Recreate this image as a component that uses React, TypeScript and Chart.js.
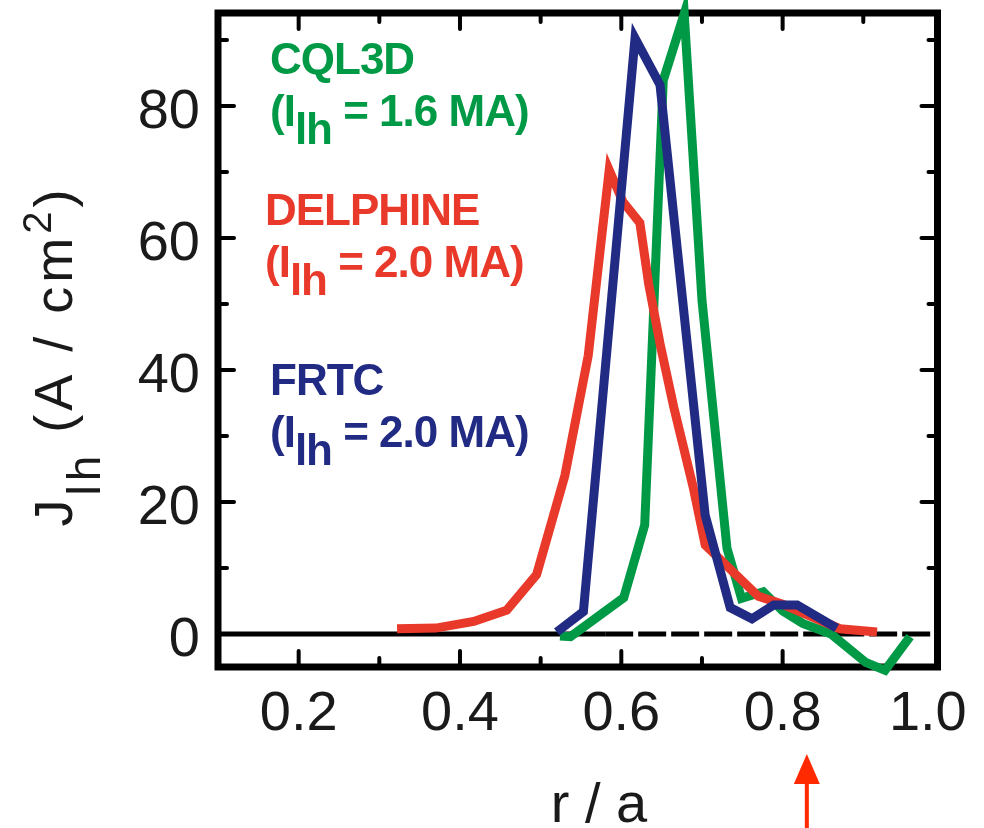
import React, { useEffect, useRef } from "react";
import { Chart, registerables } from "chart.js";

Chart.register(...registerables);

// ---- data (r/a, J_lh in A/cm^2) ----
const cql3dR = [0.524, 0.537, 0.603, 0.629, 0.652, 0.678, 0.700, 0.731, 0.749, 0.776, 0.800, 0.825, 0.860, 0.903, 0.927, 0.958];
const cql3dJ = [-0.3, -0.4, 5.5, 16.5, 83.9, 94.0, 50.6, 13.0, 5.4, 6.4, 3.5, 1.6, 0.0, -4.3, -5.5, -0.4];

const delphineR = [0.322, 0.370, 0.417, 0.458, 0.495, 0.530, 0.559, 0.585, 0.602, 0.623, 0.634, 0.648, 0.665, 0.689, 0.704, 0.770, 0.800, 0.871, 0.917];
const delphineJ = [0.8, 0.9, 1.9, 3.6, 9.0, 24.0, 42.2, 70.3, 65.5, 62.3, 53.0, 44.0, 34.4, 22.3, 13.5, 5.7, 4.5, 0.8, 0.3];

const frtcR = [0.520, 0.553, 0.617, 0.648, 0.704, 0.735, 0.762, 0.789, 0.818, 0.867];
const frtcJ = [0.3, 3.4, 90.3, 83.2, 18.0, 4.0, 2.3, 4.4, 4.4, 0.9];

// ---- axes ----
const xMin = 0.1;
const xMax = 0.992;
const yMin = -5;
const yMax = 94.1;
const xTickValues = [0.2, 0.4, 0.6, 0.8, 0.98];
const xTickLabels = ["0.2", "0.4", "0.6", "0.8", "1.0"];
const xMajorMarks = [0.2, 0.4, 0.6, 0.8];
const xMinorMarks = [0.3, 0.5, 0.7, 0.9];
const yTickValues = [0, 20, 40, 60, 80];
const yTickLabels = ["0", "20", "40", "60", "80"];
const yMajorMarks = [20, 40, 60, 80];
const yMinorMarks = [10, 30, 50, 70, 90];
const zeroDashFrom = 0.58;
const arrowAt = 0.83;

// ---- legend text ----
const seriesNames = ["CQL3D", "DELPHINE", "FRTC"];
const seriesCurrents = ["1.6", "2.0", "2.0"];
const seriesColors = ["#009a46", "#e8392a", "#222b84"];

const xTitle = "r / a";

function drawParts(ctx: CanvasRenderingContext2D, x: number, y: number, parts: { t: string; font: string; dy?: number }[]) {
  let cx = x;
  for (const p of parts) {
    ctx.font = p.font;
    ctx.fillText(p.t, cx, y + (p.dy || 0));
    cx += ctx.measureText(p.t).width;
  }
}

const framePlugin = {
  id: "frameTicks",
  beforeDatasetsDraw(chart: any) {
    const { ctx, chartArea, scales } = chart;
    const { left, right, top, bottom } = chartArea;
    const x = scales.x;
    const y = scales.y;
    ctx.save();
    ctx.strokeStyle = "#000";
    // zero line
    const y0 = y.getPixelForValue(0);
    const xd = x.getPixelForValue(zeroDashFrom);
    ctx.lineWidth = 5;
    ctx.beginPath();
    ctx.moveTo(left, y0);
    ctx.lineTo(xd, y0);
    ctx.stroke();
    ctx.setLineDash([28, 5]);
    ctx.beginPath();
    ctx.moveTo(xd, y0);
    ctx.lineTo(right, y0);
    ctx.stroke();
    ctx.setLineDash([]);
    // inward tick marks
    ctx.lineWidth = 4;
    ctx.lineCap = "round";
    const seg = (a: number, b: number, c: number, d: number) => {
      ctx.beginPath();
      ctx.moveTo(a, b);
      ctx.lineTo(c, d);
      ctx.stroke();
    };
    const major = 16;
    const minor = 9;
    xMajorMarks.forEach((v) => {
      const p = x.getPixelForValue(v);
      seg(p, bottom, p, bottom - major);
      seg(p, top, p, top + major);
    });
    xMinorMarks.forEach((v) => {
      const p = x.getPixelForValue(v);
      seg(p, bottom, p, bottom - minor);
      seg(p, top, p, top + minor);
    });
    yMajorMarks.forEach((v) => {
      const p = y.getPixelForValue(v);
      seg(left, p, left + major, p);
      seg(right, p, right - major, p);
    });
    yMinorMarks.forEach((v) => {
      const p = y.getPixelForValue(v);
      seg(left, p, left + minor, p);
      seg(right, p, right - minor, p);
    });
    // frame
    ctx.lineCap = "butt";
    ctx.lineJoin = "miter";
    ctx.lineWidth = 7;
    ctx.strokeRect(left, top, right - left, bottom - top);
    ctx.restore();
  },
};

const textPlugin = {
  id: "annotText",
  afterDraw(chart: any) {
    const { ctx, scales } = chart;
    const x = scales.x;
    ctx.save();
    ctx.textAlign = "left";
    ctx.textBaseline = "alphabetic";

    // series labels
    const lx = [270, 265, 270];
    const lb = [74, 225, 395];
    const bold = "bold 44px 'Liberation Sans', Arial, sans-serif";
    (ctx as any).letterSpacing = "-1px";
    seriesNames.forEach((name, i) => {
      ctx.fillStyle = seriesColors[i];
      drawParts(ctx, lx[i], lb[i], [{ t: name, font: bold }]);
      drawParts(ctx, lx[i], lb[i] + 52, [
        { t: "(I", font: bold },
        { t: "lh", font: bold, dy: 18 },
        { t: " = " + seriesCurrents[i] + " MA)", font: bold },
      ]);
    });

    // y axis title (rotated)
    (ctx as any).letterSpacing = "4px";
    ctx.fillStyle = "#1a1a1a";
    const main = "54px 'Liberation Sans', Arial, sans-serif";
    const sub = "46px 'Liberation Sans', Arial, sans-serif";
    const sup = "40px 'Liberation Sans', Arial, sans-serif";
    const parts = [
      { t: "J", font: main },
      { t: "lh", font: sub, dy: 28 },
      { t: " (A / cm", font: main },
      { t: "2", font: sup, dy: -21 },
      { t: ")", font: main },
    ];
    let total = 0;
    parts.forEach((p) => {
      ctx.font = p.font;
      total += ctx.measureText(p.t).width;
    });
    ctx.translate(72, 356);
    ctx.rotate(-Math.PI / 2);
    drawParts(ctx, -total / 2, 0, parts);
    ctx.setTransform(1, 0, 0, 1, 0, 0);
    (ctx as any).letterSpacing = "0px";

    // x axis title
    ctx.font = "56px 'Liberation Sans', Arial, sans-serif";
    ctx.textAlign = "center";
    ctx.fillText(xTitle, 599, 822);

    // red arrow
    const ax = x.getPixelForValue(arrowAt);
    ctx.fillStyle = "#ff2a00";
    ctx.strokeStyle = "#ff2a00";
    ctx.lineWidth = 4;
    ctx.beginPath();
    ctx.moveTo(ax, 780);
    ctx.lineTo(ax, 830);
    ctx.stroke();
    ctx.beginPath();
    ctx.moveTo(ax, 754);
    ctx.lineTo(ax - 13, 784);
    ctx.lineTo(ax + 13, 784);
    ctx.closePath();
    ctx.fill();
    ctx.restore();
  },
};

function pts(xs: number[], ys: number[]) {
  return xs.map((v, i) => ({ x: v, y: ys[i] }));
}

export default function App() {
  const ref = useRef<HTMLCanvasElement | null>(null);
  useEffect(() => {
    if (!ref.current) return;
    const common = { pointRadius: 0, borderWidth: 9, tension: 0, fill: false, clip: false as any, borderJoinStyle: "miter" as const };
    const chart = new Chart(ref.current, {
      type: "line",
      data: {
        datasets: [
          { label: "CQL3D", data: pts(cql3dR, cql3dJ), borderColor: seriesColors[0], order: 3, ...common },
          { label: "DELPHINE", data: pts(delphineR, delphineJ), borderColor: seriesColors[1], order: 2, ...common },
          { label: "FRTC", data: pts(frtcR, frtcJ), borderColor: seriesColors[2], order: 1, ...common },
        ],
      },
      options: {
        responsive: false,
        maintainAspectRatio: false,
        animation: false,
        devicePixelRatio: 1,
        layout: { padding: { top: 13, right: 46.5, bottom: 0, left: 0 } },
        plugins: { legend: { display: false }, tooltip: { enabled: false }, title: { display: false } },
        scales: {
          x: {
            type: "linear",
            min: xMin,
            max: xMax,
            grid: { display: false, drawTicks: false },
            border: { display: false },
            afterBuildTicks: (s: any) => {
              s.ticks = xTickValues.map((v) => ({ value: v }));
            },
            afterFit: (s: any) => {
              s.height = 161;
              s.paddingLeft = 0;
              s.paddingRight = 0;
            },
            ticks: {
              autoSkip: false,
              maxRotation: 0,
              minRotation: 0,
              padding: 14,
              color: "#1a1a1a",
              font: { family: "'Liberation Sans', Arial, sans-serif", size: 56 },
              callback: (v: any) => {
                const i = xTickValues.indexOf(Number(v));
                return i >= 0 ? xTickLabels[i] : "";
              },
            },
          },
          y: {
            type: "linear",
            min: yMin,
            max: yMax,
            grid: { display: false, drawTicks: false },
            border: { display: false },
            afterBuildTicks: (s: any) => {
              s.ticks = yTickValues.map((v) => ({ value: v }));
            },
            afterFit: (s: any) => {
              s.width = 218;
              s.paddingTop = 0;
              s.paddingBottom = 0;
            },
            ticks: {
              autoSkip: false,
              padding: 18,
              labelOffset: 7,
              color: "#1a1a1a",
              font: { family: "'Liberation Sans', Arial, sans-serif", size: 56 },
              callback: (v: any) => {
                const i = yTickValues.indexOf(Number(v));
                return i >= 0 ? yTickLabels[i] : "";
              },
            },
          },
        },
      },
      plugins: [framePlugin, textPlugin],
    });
    return () => chart.destroy();
  }, []);
  return (
    <div style={{ position: "fixed", left: 0, top: 0, width: 984, height: 828, background: "#fff" }}>
      <canvas ref={ref} width={984} height={828} style={{ display: "block", width: 984, height: 828 }} />
    </div>
  );
}
